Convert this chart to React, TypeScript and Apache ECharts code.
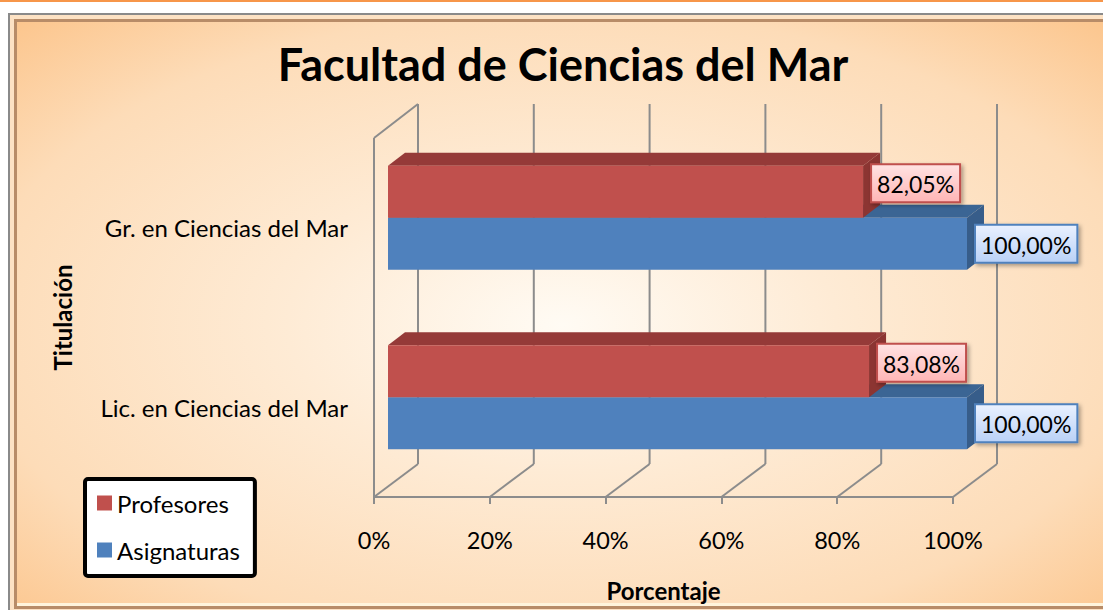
import React, { useEffect, useRef } from "react";
import * as echarts from "echarts";

const categories = ["Lic. en Ciencias del Mar", "Gr. en Ciencias del Mar"];
const profesores = [83.08, 82.05];
const asignaturas = [100, 100];
const tickValues = [0, 20, 40, 60, 80, 100];

const FONT = "Lato, 'Open Sans', sans-serif";
const LINE = "#8c8c8c";
const BAR_X = 14;
const BAR_Y = -10;
const BAR_DX = 17;
const BAR_DY = 13;
const WALL_DX = 44;
const WALL_DY = 33;

const fmt = (v: number) => v.toFixed(2).replace(".", ",") + "%";

let measureCtx: CanvasRenderingContext2D | null = null;
function textWidth(s: string, size: number) {
  if (!measureCtx) measureCtx = document.createElement("canvas").getContext("2d");
  if (!measureCtx) return s.length * size * 0.55;
  measureCtx.font = `${size}px Lato`;
  return measureCtx.measureText(s).width;
}

function barRenderer(slot: "upper" | "lower", c: { front: string; top: string; side: string; lblTop: string; lblBot: string; lblBorder: string }, labelDy: number) {
  return (params: any, api: any) => {
    const v = api.value(0);
    const ci = api.value(1);
    const p0 = api.coord([0, ci]);
    const p1 = api.coord([v, ci]);
    const band = api.size([0, 1])[1];
    const h = band * 0.29;
    const cy = p0[1] + BAR_Y;
    const yTop = slot === "upper" ? cy - h : cy;
    const yBot = yTop + h;
    const x0 = p0[0] + BAR_X;
    const x1 = p1[0] + BAR_X;
    const label = fmt(v);
    const fs = 23;
    const w = textWidth(label, fs) + 12;
    const lh = 38;
    const lx = x1 + 8;
    const ly = (yTop + yBot) / 2 + labelDy - lh / 2;
    return {
      type: "group",
      children: [
        {
          type: "polygon",
          shape: { points: [[x0, yTop], [x0 + BAR_DX, yTop - BAR_DY], [x1 + BAR_DX, yTop - BAR_DY], [x1, yTop]] },
          style: { fill: c.top },
        },
        {
          type: "polygon",
          shape: { points: [[x1, yTop], [x1 + BAR_DX, yTop - BAR_DY], [x1 + BAR_DX, yBot - BAR_DY], [x1, yBot]] },
          style: { fill: c.side },
        },
        {
          type: "rect",
          shape: { x: x0, y: yTop, width: x1 - x0, height: h },
          style: { fill: c.front },
        },
        {
          type: "rect",
          shape: { x: lx, y: ly, width: w, height: lh },
          style: {
            fill: new echarts.graphic.LinearGradient(0, 0, 0, 1, [
              { offset: 0, color: c.lblTop },
              { offset: 1, color: c.lblBot },
            ]),
            stroke: c.lblBorder,
            lineWidth: 2,
            shadowBlur: 4,
            shadowOffsetX: 2,
            shadowOffsetY: 2,
            shadowColor: "rgba(0,0,0,0.35)",
          },
        },
        {
          type: "text",
          style: {
            text: label,
            x: lx + w / 2,
            y: ly + lh / 2 + 1,
            align: "center",
            verticalAlign: "middle",
            fontSize: fs,
            fontFamily: FONT,
            fill: "#000",
          },
        },
      ],
    };
  };
}

function wallRenderer(params: any, api: any) {
  const t = api.value(0);
  const cs = params.coordSys;
  const x = api.coord([t, 0])[0];
  const bottom = cs.y + cs.height;
  const top = cs.y;
  const ls = { stroke: LINE, lineWidth: 2, fill: "none" };
  const children: any[] = [
    { type: "line", shape: { x1: x, y1: bottom, x2: x + WALL_DX, y2: bottom - WALL_DY }, style: ls },
    { type: "line", shape: { x1: x + WALL_DX, y1: bottom - WALL_DY, x2: x + WALL_DX, y2: top - WALL_DY - 1 }, style: ls },
  ];
  if (t === 0) {
    children.push({ type: "line", shape: { x1: x, y1: bottom, x2: x, y2: top }, style: ls });
    children.push({ type: "line", shape: { x1: x, y1: top, x2: x + WALL_DX, y2: top - WALL_DY - 1 }, style: ls });
  }
  return { type: "group", children };
}

export default function App() {
  const ref = useRef<HTMLDivElement>(null);
  useEffect(() => {
    document.body.style.margin = "0";
    const chart = echarts.init(ref.current!, null, { renderer: "svg" });
    const option: any = {
      animation: false,
      textStyle: { fontFamily: FONT },
      title: {
        text: "Facultad de Ciencias del Mar",
        left: 563,
        textAlign: "center",
        top: 41,
        padding: 0,
        textStyle: { fontSize: 45, fontWeight: "bold", color: "#000", fontFamily: FONT },
      },
      graphic: [
        { type: "rect", z: -20, silent: true, shape: { x: 0, y: 0, width: 1103, height: 2 }, style: { fill: "#f7964a" } },
        { type: "rect", z: -20, silent: true, shape: { x: 9, y: 14, width: 1110, height: 610 }, style: { fill: "#f6c79a", stroke: "#8a8a8a", lineWidth: 2 } },
        { type: "rect", z: -19, silent: true, shape: { x: 10, y: 15, width: 1110, height: 600 }, style: { fill: "#fde2c4" } },
        { type: "rect", z: -19, silent: true, shape: { x: 14, y: 19, width: 1110, height: 590 }, style: { fill: "#b88c68" } },
        {
          type: "rect",
          z: -18,
          silent: true,
          shape: { x: 17, y: 22, width: 1090, height: 583 },
          style: {
            fill: new echarts.graphic.RadialGradient(0.5, 0.52, 0.72, [
              { offset: 0, color: "#fffbf4" },
              { offset: 0.35, color: "#feebd5" },
              { offset: 0.75, color: "#fddcb8" },
              { offset: 1, color: "#fcc68e" },
            ]),
          },
        },
        { type: "rect", z: -17, silent: true, shape: { x: 17, y: 603, width: 1090, height: 3 }, style: { fill: "#fff4dc" } },
      ],
      legend: {
        data: ["Profesores", "Asignaturas"],
        orient: "vertical",
        left: 85,
        top: 479,
        icon: "rect",
        itemWidth: 15,
        itemHeight: 15,
        itemGap: 23,
        padding: [12, 15, 14, 12],
        backgroundColor: "#fff",
        borderColor: "#000",
        borderWidth: 4,
        borderRadius: 3,
        textStyle: { fontSize: 24, color: "#000", fontFamily: FONT },
      },
      grid: { left: 374, right: 150, top: 138, bottom: 113 },
      xAxis: {
        type: "value",
        min: 0,
        max: 100,
        interval: 20,
        name: "Porcentaje",
        nameLocation: "middle",
        nameGap: 81,
        nameTextStyle: { fontSize: 24, fontWeight: "bold", color: "#000", fontFamily: FONT },
        axisLine: { show: true, lineStyle: { color: LINE, width: 2 } },
        axisTick: { show: true, length: 7, lineStyle: { color: LINE, width: 2 } },
        splitLine: { show: false },
        axisLabel: { formatter: "{value}%", fontSize: 23.5, color: "#000", margin: 31, fontFamily: FONT },
      },
      yAxis: {
        type: "category",
        data: categories,
        name: "Titulación",
        nameLocation: "middle",
        nameRotate: 90,
        nameGap: 300,
        nameTextStyle: { fontSize: 24, fontWeight: "bold", color: "#000", fontFamily: FONT },
        axisLine: { show: false },
        axisTick: { show: false },
        splitLine: { show: false },
        axisLabel: { fontSize: 24, color: "#000", margin: 26, fontFamily: FONT },
      },
      series: [
        {
          name: "walls",
          type: "custom",
          z: 1,
          silent: true,
          renderItem: wallRenderer,
          encode: { x: 0 },
          data: tickValues.map((t) => [t]),
        },
        {
          name: "Asignaturas",
          type: "custom",
          z: 2,
          itemStyle: { color: "#4f81bd" },
          renderItem: barRenderer("lower", { front: "#4f81bd", top: "#3b6594", side: "#375d8a", lblTop: "#eaf1ff", lblBot: "#b9d1f7", lblBorder: "#4f81bd" }, 0),
          encode: { x: 0, y: 1 },
          data: asignaturas.map((v, i) => [v, i]),
        },
        {
          name: "Profesores",
          type: "custom",
          z: 3,
          itemStyle: { color: "#c0504d" },
          renderItem: barRenderer("upper", { front: "#c0504d", top: "#953a38", side: "#8c3532", lblTop: "#ffe3e3", lblBot: "#ffb5b5", lblBorder: "#c0504d" }, -8.5),
          encode: { x: 0, y: 1 },
          data: profesores.map((v, i) => [v, i]),
        },
      ],
    };
    chart.setOption(option);
    return () => chart.dispose();
  }, []);
  return <div ref={ref} style={{ position: "absolute", left: 0, top: 0, width: 1103, height: 610 }} />;
}
